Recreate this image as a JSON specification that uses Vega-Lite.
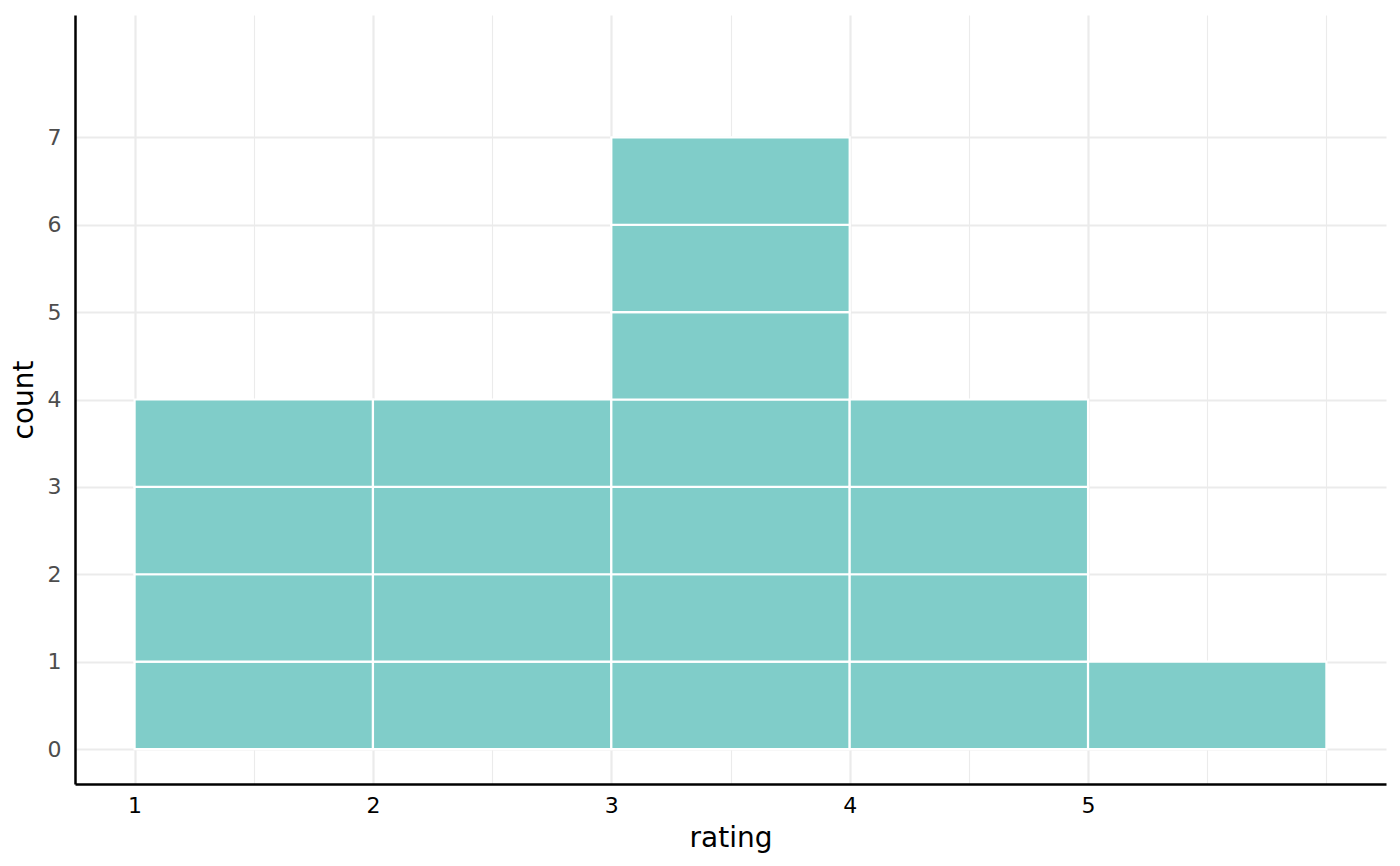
{
  "$schema": "https://vega.github.io/schema/vega-lite/v6.json",
  "width": 1311,
  "height": 769,
  "padding": {"left": 75, "top": 15, "right": 14, "bottom": 82},
  "autosize": {"type": "none"},
  "background": "white",
  "config": {
    "view": {"stroke": null},
    "font": "DejaVu Sans"
  },
  "data": {
    "values": [
      {"lo": 1, "hi": 2, "ymin": 0, "ymax": 1},
      {"lo": 1, "hi": 2, "ymin": 1, "ymax": 2},
      {"lo": 1, "hi": 2, "ymin": 2, "ymax": 3},
      {"lo": 1, "hi": 2, "ymin": 3, "ymax": 4},
      {"lo": 2, "hi": 3, "ymin": 0, "ymax": 1},
      {"lo": 2, "hi": 3, "ymin": 1, "ymax": 2},
      {"lo": 2, "hi": 3, "ymin": 2, "ymax": 3},
      {"lo": 2, "hi": 3, "ymin": 3, "ymax": 4},
      {"lo": 3, "hi": 4, "ymin": 0, "ymax": 1},
      {"lo": 3, "hi": 4, "ymin": 1, "ymax": 2},
      {"lo": 3, "hi": 4, "ymin": 2, "ymax": 3},
      {"lo": 3, "hi": 4, "ymin": 3, "ymax": 4},
      {"lo": 3, "hi": 4, "ymin": 4, "ymax": 5},
      {"lo": 3, "hi": 4, "ymin": 5, "ymax": 6},
      {"lo": 3, "hi": 4, "ymin": 6, "ymax": 7},
      {"lo": 4, "hi": 5, "ymin": 0, "ymax": 1},
      {"lo": 4, "hi": 5, "ymin": 1, "ymax": 2},
      {"lo": 4, "hi": 5, "ymin": 2, "ymax": 3},
      {"lo": 4, "hi": 5, "ymin": 3, "ymax": 4},
      {"lo": 5, "hi": 6, "ymin": 0, "ymax": 1}
    ]
  },
  "mark": {"type": "rect", "fill": "#80cdc9", "stroke": "white", "strokeWidth": 2.2},
  "encoding": {
    "x": {
      "field": "lo",
      "type": "quantitative",
      "scale": {"domain": [0.75, 6.25], "nice": false, "zero": false},
      "axis": {
        "title": "rating",
        "values": [1, 1.5, 2, 2.5, 3, 3.5, 4, 4.5, 5, 5.5, 6],
        "labelExpr": "datum.value % 1 === 0 && datum.value <= 5 ? format(datum.value, 'd') : ''",
        "labelColor": "black",
        "labelFont": "DejaVu Sans",
        "labelFontSize": 22,
        "labelPadding": 11,
        "titleFont": "DejaVu Sans",
        "titleFontSize": 28,
        "titleFontWeight": "normal",
        "titleColor": "black",
        "titlePadding": 8,
        "ticks": false,
        "domainColor": "black",
        "domainWidth": 2.5,
        "gridColor": "#ebebeb",
        "gridWidth": {"condition": {"test": "datum.value % 1 === 0 && datum.value <= 5", "value": 2.2}, "value": 1.1}
      }
    },
    "x2": {"field": "hi"},
    "y": {
      "field": "ymin",
      "type": "quantitative",
      "scale": {"domain": [-0.4, 8.4], "nice": false, "zero": false},
      "axis": {
        "title": "count",
        "values": [0, 1, 2, 3, 4, 5, 6, 7],
        "format": "d",
        "labelColor": "#4d4d4d",
        "labelFont": "DejaVu Sans",
        "labelFontSize": 22,
        "labelPadding": 14,
        "titleFont": "DejaVu Sans",
        "titleFontSize": 28,
        "titleFontWeight": "normal",
        "titleColor": "black",
        "titlePadding": 9,
        "ticks": false,
        "domainColor": "black",
        "domainWidth": 2.5,
        "gridColor": "#ebebeb",
        "gridWidth": 2.2
      }
    },
    "y2": {"field": "ymax"}
  }
}
